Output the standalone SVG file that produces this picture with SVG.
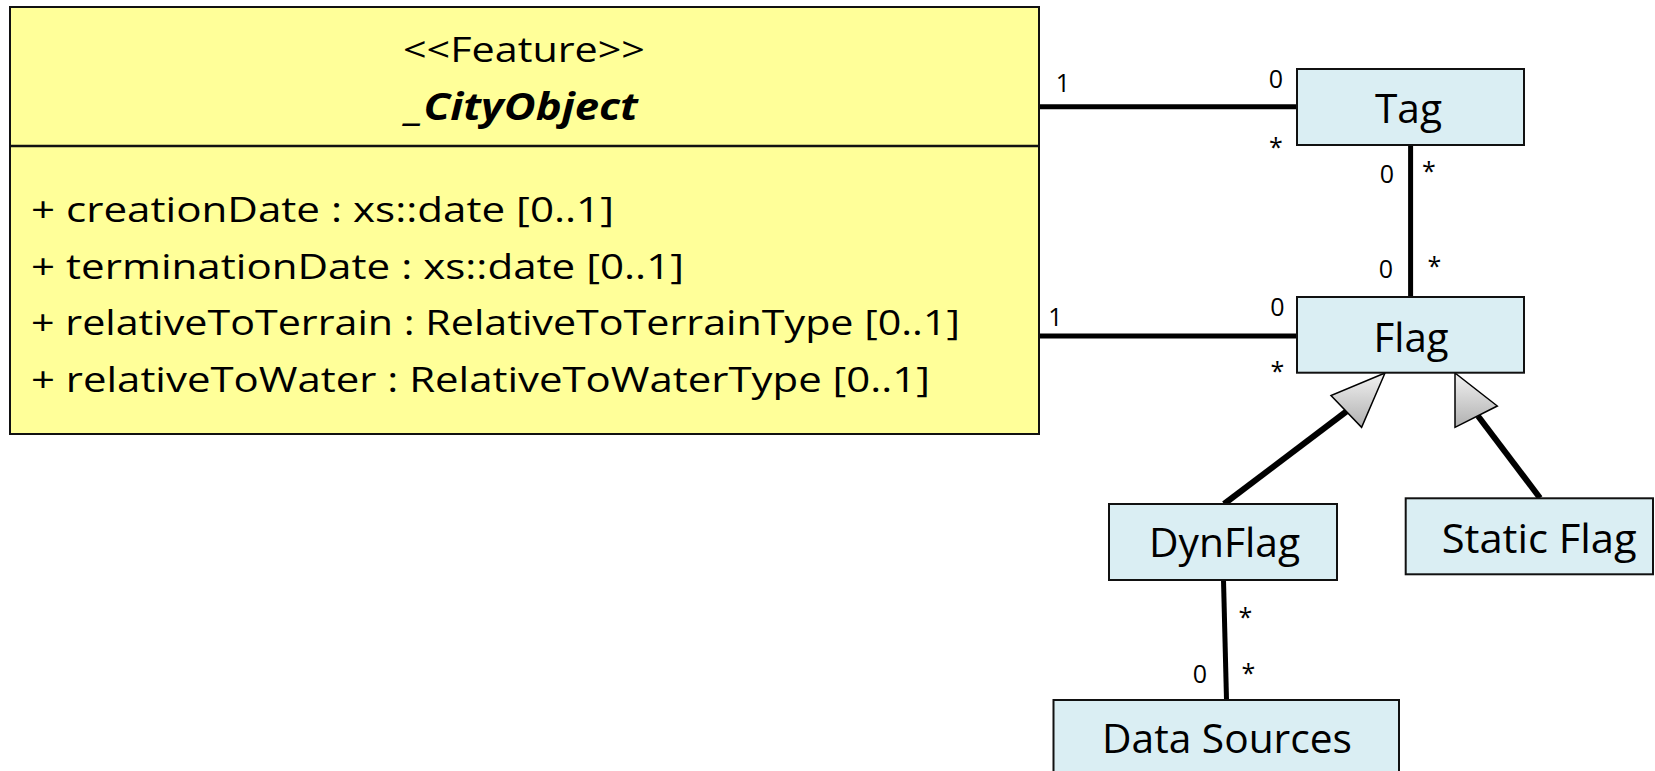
<svg xmlns="http://www.w3.org/2000/svg" width="1655" height="771" viewBox="0 0 1655 771">
  <style>
    text { font-family: "Open Sans", "Noto Sans", "DejaVu Sans", sans-serif; fill: #000; }
    .cls { fill: #ffff99; stroke: #111; stroke-width: 2; }
    .div { stroke: #111; stroke-width: 2.5; }
    .box { fill: #daeef3; stroke: #111; stroke-width: 2; }
    .name { font-size: 40px; text-anchor: start; }
    .attr { font-size: 35px; }
    .mult { font-size: 25px; text-anchor: middle; }
    .assoc { stroke: #000; stroke-width: 5; fill: none; }
    .gen { stroke: #000; stroke-width: 6; fill: none; }
    .tri { stroke: #000; stroke-width: 1.5; stroke-linejoin: miter; }
  </style>
  <defs>
    <linearGradient id="triFill" x1="0" y1="0" x2="0" y2="1">
      <stop offset="0" stop-color="#f2f2f2"/>
      <stop offset="1" stop-color="#b0b0b0"/>
    </linearGradient>
  </defs>

  <rect width="1655" height="771" fill="#ffffff"/>

  <!-- connectors -->
  <g id="connectors">
    <line class="assoc" x1="1040" y1="106.7" x2="1297" y2="106.7"/>
    <line class="assoc" x1="1040" y1="336" x2="1297" y2="336"/>
    <line class="assoc" x1="1410.6" y1="145" x2="1410.6" y2="297"/>
    <line class="assoc" x1="1223.5" y1="580" x2="1226.5" y2="700"/>
    <!-- generalisations -->
    <line class="gen" x1="1224" y1="504" x2="1347" y2="411"/>
    <polygon class="tri" fill="url(#triFill)" points="1385,373 1331,395.5 1361.6,427.3"/>
    <line class="gen" x1="1540" y1="498" x2="1478" y2="416"/>
    <polygon class="tri" fill="url(#triFill)" points="1455,373 1455,427.3 1497.3,406"/>
    <!-- multiplicities -->
    <text class="mult" x="1063" y="92">1</text>
    <text class="mult" x="1276" y="88">0</text>
    <text class="mult" x="1276" y="156">*</text>
    <text class="mult" x="1387" y="183">0</text>
    <text class="mult" x="1429" y="180">*</text>
    <text class="mult" x="1386" y="278">0</text>
    <text class="mult" x="1434.5" y="275">*</text>
    <text class="mult" x="1277.5" y="316">0</text>
    <text class="mult" x="1055.5" y="326">1</text>
    <text class="mult" x="1277.5" y="380">*</text>
    <text class="mult" x="1245.5" y="626">*</text>
    <text class="mult" x="1248.5" y="682">*</text>
    <text class="mult" x="1200" y="683">0</text>
  </g>

  <!-- _CityObject feature class -->
  <g id="cityObject">
    <rect class="cls" x="10" y="7" width="1029" height="427"/>
    <line class="div" x1="10" y1="146" x2="1039" y2="146"/>
    <text x="403" y="62" font-size="34" textLength="242" lengthAdjust="spacingAndGlyphs">&lt;&lt;Feature&gt;&gt;</text>
    <text x="406" y="120" font-size="38" font-weight="bold" font-style="italic" textLength="232" lengthAdjust="spacingAndGlyphs">_CityObject</text>
    <text class="attr" x="31" y="222" textLength="583" lengthAdjust="spacingAndGlyphs">+ creationDate : xs::date [0..1]</text>
    <text class="attr" x="31" y="278.5" textLength="653" lengthAdjust="spacingAndGlyphs">+ terminationDate : xs::date [0..1]</text>
    <text class="attr" x="31" y="335" textLength="929" lengthAdjust="spacingAndGlyphs">+ relativeToTerrain : RelativeToTerrainType [0..1]</text>
    <text class="attr" x="31" y="391.5" textLength="899" lengthAdjust="spacingAndGlyphs">+ relativeToWater : RelativeToWaterType [0..1]</text>
  </g>

  <g id="tag">
    <rect class="box" x="1297" y="69" width="227" height="76"/>
    <text class="name" x="1375" y="122.7" textLength="67" lengthAdjust="spacingAndGlyphs">Tag</text>
  </g>

  <g id="flag">
    <rect class="box" x="1297" y="297" width="227" height="75.7"/>
    <text class="name" x="1373.6" y="351.7" textLength="75" lengthAdjust="spacingAndGlyphs">Flag</text>
  </g>

  <g id="dynFlag">
    <rect class="box" x="1109" y="504" width="228" height="76"/>
    <text class="name" x="1149" y="557" textLength="151" lengthAdjust="spacingAndGlyphs">DynFlag</text>
  </g>

  <g id="staticFlag">
    <rect class="box" x="1405.7" y="498.3" width="247.3" height="76"/>
    <text class="name" x="1441.7" y="553" font-size="41" textLength="195" lengthAdjust="spacingAndGlyphs">Static Flag</text>
  </g>

  <g id="dataSources">
    <rect class="box" x="1053.5" y="700" width="345.5" height="90"/>
    <text class="name" x="1102" y="753" textLength="250" lengthAdjust="spacingAndGlyphs">Data Sources</text>
  </g>
</svg>
